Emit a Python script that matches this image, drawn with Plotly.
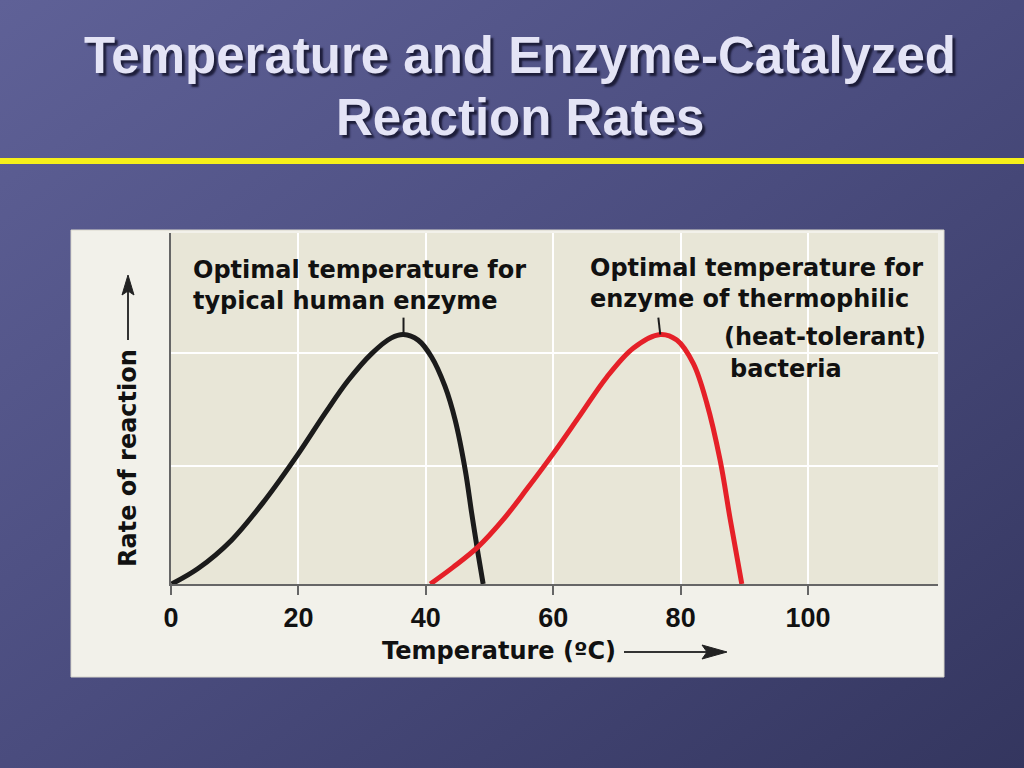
import base64
import plotly.graph_objects as go

# ---------------- data ----------------
human_temp = [0.1, 4.3, 9.5, 14.8, 20.0, 24.2, 27.8, 31.5, 34.6, 36.5, 38.8, 40.9, 43.0, 44.6, 46.2, 47.2, 48.2, 49.0]
human_rate = [0.0, 0.14, 0.39, 0.75, 1.16, 1.52, 1.81, 2.05, 2.19, 2.22, 2.17, 2.02, 1.76, 1.46, 1.01, 0.63, 0.27, 0.0]

thermo_temp = [40.7, 44.3, 48.2, 52.1, 55.8, 60.0, 64.2, 68.4, 72.6, 76.8, 79.4, 82.0, 84.1, 86.2, 87.8, 89.6]
thermo_rate = [0.0, 0.15, 0.33, 0.57, 0.84, 1.16, 1.50, 1.84, 2.10, 2.22, 2.17, 1.96, 1.61, 1.10, 0.57, 0.0]

peak_human = [36.5, 2.22]
peak_thermo = [76.8, 2.22]
pointer_top = 2.37

x_ticks = [0, 20, 40, 60, 80, 100]
x_tick_labels = ["0", "20", "40", "60", "80", "100"]
y_grid = [1.052, 2.053]

title_lines = ["Temperature and Enzyme-Catalyzed", "Reaction Rates"]
label_human = "Optimal temperature for<br>typical human enzyme"
label_thermo = "Optimal temperature for<br>enzyme of thermophilic"
label_thermo2 = "(heat-tolerant)"
label_thermo3 = "bacteria"
x_title = "Temperature (ºC)"
y_title = "Rate of reaction"

# ---------------- helpers ----------------
W, H = 1024, 768


def px(x):
    return x / W


def py(y):
    return 1 - y / H


LABEL_FONT = dict(family="DejaVu Sans", size=24, color="#111111", weight="bold")

# slide background gradient
svg = (
    '<svg xmlns="http://www.w3.org/2000/svg" width="1024" height="768">'
    '<defs><linearGradient id="g" x1="0" y1="0" x2="1" y2="1">'
    '<stop offset="0" stop-color="#5f6197"/>'
    '<stop offset="0.5" stop-color="#4a4c7e"/>'
    '<stop offset="1" stop-color="#34365f"/>'
    '</linearGradient></defs>'
    '<rect width="1024" height="768" fill="url(#g)"/></svg>'
)
bg_uri = "data:image/svg+xml;base64," + base64.b64encode(svg.encode()).decode()

fig = go.Figure()

fig.add_trace(go.Scatter(
    x=human_temp, y=human_rate, mode="lines",
    line=dict(color="#1b1b1b", width=5, shape="spline", smoothing=1.0),
    hoverinfo="skip", showlegend=False,
))
fig.add_trace(go.Scatter(
    x=thermo_temp, y=thermo_rate, mode="lines",
    line=dict(color="#e52028", width=5, shape="spline", smoothing=1.0),
    hoverinfo="skip", showlegend=False,
))
# peak pointer ticks
fig.add_trace(go.Scatter(
    x=[peak_human[0], peak_human[0]], y=[peak_human[1], pointer_top],
    mode="lines", line=dict(color="#1b1b1b", width=2),
    hoverinfo="skip", showlegend=False,
))
fig.add_trace(go.Scatter(
    x=[peak_thermo[0], peak_thermo[0] - 0.3], y=[peak_thermo[1], pointer_top],
    mode="lines", line=dict(color="#1b1b1b", width=2),
    hoverinfo="skip", showlegend=False,
))

shapes = []
# chart panel
shapes.append(dict(type="rect", xref="paper", yref="paper", layer="below",
                   x0=px(71), x1=px(944), y0=py(677), y1=py(230),
                   fillcolor="#f2f1ea", line=dict(color="#d9d7cc", width=1)))
# plot area
shapes.append(dict(type="rect", xref="x domain", yref="y domain", layer="below",
                   x0=0, x1=1, y0=0, y1=1,
                   fillcolor="#e8e6d7", line=dict(width=0)))
# yellow rule under title
shapes.append(dict(type="rect", xref="paper", yref="paper", layer="below",
                   x0=0, x1=1, y0=py(164), y1=py(158),
                   fillcolor="#f6f01a", line=dict(width=0)))
# y-axis title arrow
shapes.append(dict(type="line", xref="paper", yref="paper",
                   x0=px(128), x1=px(128), y0=py(340), y1=py(290),
                   line=dict(color="#333333", width=2)))
shapes.append(dict(type="path", xref="paper", yref="paper",
                   path=(f"M {px(128)} {py(275)} L {px(134)} {py(295)} "
                         f"L {px(128)} {py(291)} L {px(122)} {py(295)} Z"),
                   fillcolor="#222222", line=dict(color="#222222", width=1)))
# x-axis title arrow
shapes.append(dict(type="line", xref="paper", yref="paper",
                   x0=px(624), x1=px(710), y0=py(652), y1=py(652),
                   line=dict(color="#333333", width=2)))
shapes.append(dict(type="path", xref="paper", yref="paper",
                   path=(f"M {px(727)} {py(652)} L {px(702)} {py(645)} "
                         f"L {px(707)} {py(652)} L {px(702)} {py(659)} Z"),
                   fillcolor="#222222", line=dict(color="#222222", width=1)))

annotations = []
title_font = dict(family="Liberation Sans, Arial, sans-serif", size=51,
                  color="#e4e4f6", weight="bold",
                  shadow="3px 3px 2px rgba(20,20,45,0.85)")
annotations.append(dict(text=title_lines[0], xref="paper", yref="paper",
                        x=px(520), y=py(56), xanchor="center", yanchor="middle",
                        showarrow=False, font=title_font))
annotations.append(dict(text=title_lines[1], xref="paper", yref="paper",
                        x=px(520), y=py(117), xanchor="center", yanchor="middle",
                        showarrow=False, font=title_font))
annotations.append(dict(text=label_human, xref="paper", yref="paper",
                        x=px(191), y=py(254), xanchor="left", yanchor="top", align="left",
                        showarrow=False, font=LABEL_FONT))
annotations.append(dict(text=label_thermo, xref="paper", yref="paper",
                        x=px(588), y=py(252), xanchor="left", yanchor="top", align="left",
                        showarrow=False, font=LABEL_FONT))
annotations.append(dict(text=label_thermo2, xref="paper", yref="paper",
                        x=px(722), y=py(337), xanchor="left", yanchor="middle", align="left",
                        showarrow=False, font=LABEL_FONT))
annotations.append(dict(text=label_thermo3, xref="paper", yref="paper",
                        x=px(728), y=py(369), xanchor="left", yanchor="middle", align="left",
                        showarrow=False, font=LABEL_FONT))
annotations.append(dict(text=x_title, xref="paper", yref="paper",
                        x=px(499), y=py(651), xanchor="center", yanchor="middle",
                        showarrow=False, font=LABEL_FONT))
annotations.append(dict(text=y_title, xref="paper", yref="paper", textangle=-90,
                        x=px(128), y=py(458), xanchor="center", yanchor="middle",
                        showarrow=False, font=LABEL_FONT))

fig.update_layout(
    width=W, height=H, autosize=False,
    margin=dict(l=0, r=0, t=0, b=0, pad=0, autoexpand=False),
    paper_bgcolor="#4a4c7e",
    plot_bgcolor="rgba(0,0,0,0)",
    images=[dict(source=bg_uri, xref="paper", yref="paper", x=0, y=1,
                 sizex=1, sizey=1, sizing="stretch", layer="below",
                 xanchor="left", yanchor="top")],
    shapes=shapes,
    annotations=annotations,
    xaxis=dict(
        domain=[px(171), px(938)], range=[0, 120.4],
        tickmode="array", tickvals=x_ticks, ticktext=x_tick_labels,
        showgrid=True, gridcolor="#ffffff", gridwidth=2,
        zeroline=False, showline=True, linecolor="#666666", linewidth=2,
        ticks="outside", ticklen=9, tickwidth=2, tickcolor="#666666",
        tickfont=dict(family="Liberation Sans, Arial, sans-serif", size=27,
                      color="#111111", weight="bold"),
        automargin=False, fixedrange=True,
    ),
    yaxis=dict(
        domain=[py(584), py(233)], range=[0, 3.123],
        tickmode="array", tickvals=y_grid, showticklabels=False,
        showgrid=True, gridcolor="#ffffff", gridwidth=2,
        zeroline=False, showline=True, linecolor="#666666", linewidth=2,
        ticks="", automargin=False, fixedrange=True,
    ),
)

post = (
    "document.documentElement.style.margin='0';"
    "document.documentElement.style.overflow='hidden';"
    "document.body.style.margin='0';"
    "document.body.style.overflow='hidden';"
    "document.body.style.background='#4a4c7e';"
    "var gd=document.getElementById('{plot_id}');"
    "gd.style.position='fixed';gd.style.left='0px';gd.style.top='0px';"
)
fig.write_html("out.html", config={"displayModeBar": False}, post_script=post)
